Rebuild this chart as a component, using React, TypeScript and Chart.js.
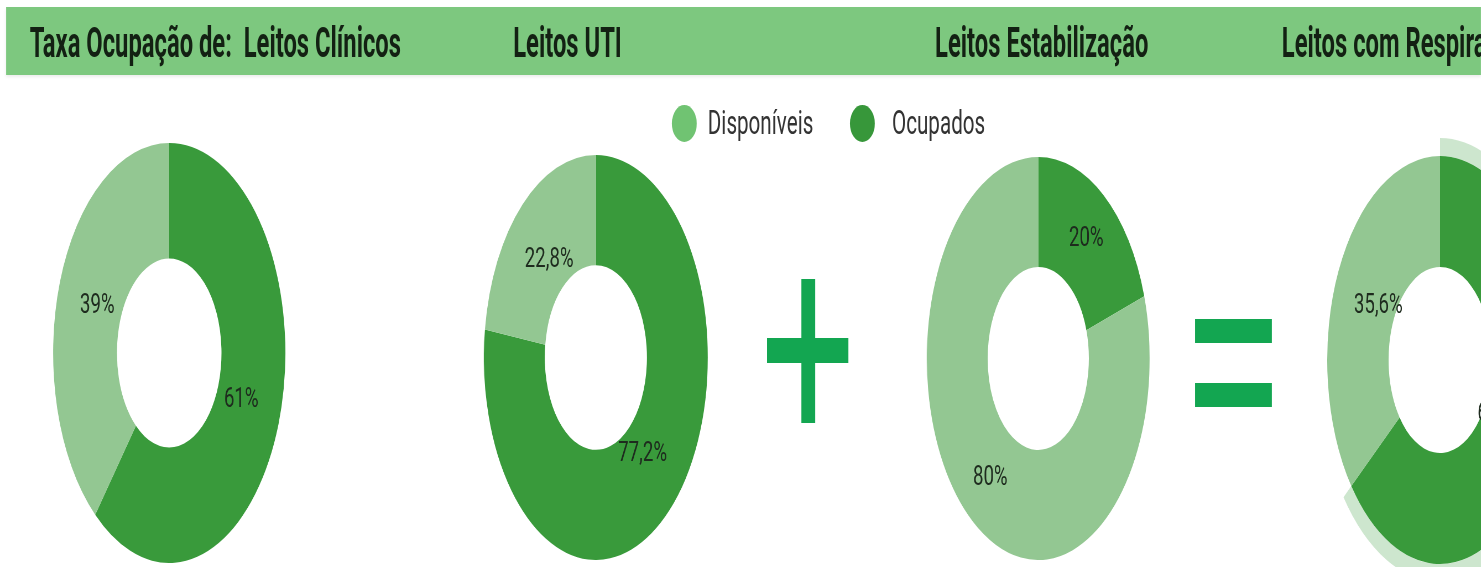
import React, { useEffect, useRef } from 'react';
import { Chart, registerables } from 'chart.js';

Chart.register(...registerables);

// ---------- data ----------
const headerTitles = [
  'Taxa Ocupação de:  Leitos Clínicos',
  'Leitos UTI',
  'Leitos Estabilização',
  'Leitos com Respiradores',
];
const sliceLabels = ['Ocupados', 'Disponíveis'];
const legendLabels = ['Disponíveis', 'Ocupados'];
const clinicosValues = [61, 39];
const utiValues = [77.2, 22.8];
const estabilizacaoValues = [20, 80];
const respiradoresValues = [64.4, 35.6];

// ---------- styles ----------
const SQUASH = 0.553;
const VIEW_W = 1481;
const VIEW_H = 567;
const VW = VIEW_W / SQUASH;

const COLOR_OCUPADOS = '#399a3b';
const COLOR_DISPONIVEIS = '#93c792';
const COLOR_HALO = 'rgba(57,154,59,0.25)';
const LEGEND_COLORS: Record<string, string> = {
  'Disponíveis': '#70c372',
  'Ocupados': '#37973a',
};
const SIGN_COLOR = '#13a651';
const HEADER_BG = '#7dc87f';
const HEADER_TEXT = '#132113';
const LABEL_TEXT = '#1e2b1e';

const headerLefts = [54, 928, 1691, 2318];

function formatPct(v: number): string {
  const r = Number(v.toFixed(1));
  return String(r).replace('.', ',') + '%';
}

const pctLabelPlugin = {
  id: 'pctLabels',
  afterDatasetsDraw(chart: any, _args: any, opts: any) {
    const ctx = chart.ctx;
    const dsIndex = opts.datasetIndex ?? 0;
    const meta = chart.getDatasetMeta(dsIndex);
    const data: number[] = chart.data.datasets[dsIndex].data;
    const total = data.reduce((a, b) => a + b, 0);
    ctx.save();
    ctx.font = `${opts.size}px Roboto`;
    ctx.fillStyle = opts.color;
    ctx.textAlign = 'center';
    ctx.textBaseline = 'middle';
    meta.data.forEach((arc: any, i: number) => {
      const p = arc.getProps(['x', 'y', 'startAngle', 'endAngle', 'innerRadius', 'outerRadius'], true);
      const mid = (p.startAngle + p.endAngle) / 2;
      const r = p.innerRadius + (p.outerRadius - p.innerRadius) * opts.radial;
      const x = p.x + Math.cos(mid) * r;
      const y = p.y + Math.sin(mid) * r;
      ctx.save();
      ctx.translate(x, y);
      ctx.scale(opts.stretch, 1);
      ctx.fillText(formatPct((data[i] / total) * 100), 0, 0);
      ctx.restore();
    });
    ctx.restore();
  },
};

type DonutProps = {
  values: number[];
  left: number;
  top: number;
  size: number;
  cutout: string;
  radial: number;
  halo?: number[]; // [haloWeight, mainWeight]
};

function Donut({ values, left, top, size, cutout, radial, halo }: DonutProps) {
  const ref = useRef<HTMLCanvasElement | null>(null);
  useEffect(() => {
    if (!ref.current) return;
    const main = {
      data: values,
      backgroundColor: [COLOR_OCUPADOS, COLOR_DISPONIVEIS],
      borderWidth: 0,
      weight: halo ? halo[1] : 1,
    };
    const datasets: any[] = halo
      ? [
          {
            data: values,
            backgroundColor: [COLOR_HALO, 'rgba(0,0,0,0)'],
            borderWidth: 0,
            weight: halo[0],
          },
          main,
        ]
      : [main];
    const chart = new Chart(ref.current, {
      type: 'doughnut',
      data: { labels: sliceLabels, datasets },
      options: {
        responsive: false,
        animation: false,
        cutout,
        layout: { padding: 0 },
        plugins: {
          legend: { display: false },
          tooltip: { enabled: false },
          pctLabels: {
            datasetIndex: halo ? 1 : 0,
            size: 27,
            stretch: 1.25,
            color: LABEL_TEXT,
            radial,
          },
        } as any,
      },
      plugins: [pctLabelPlugin as any],
    });
    return () => chart.destroy();
  }, []);
  return (
    <div style={{ position: 'absolute', left, top, width: size, height: size }}>
      <canvas ref={ref} width={size} height={size} style={{ display: 'block' }} />
    </div>
  );
}

const legendLayout = [
  { circleLeft: 1215, textLeft: 1280 },
  { circleLeft: 1537, textLeft: 1613 },
];

export default function App() {
  return (
    <div
      style={{
        position: 'fixed',
        left: 0,
        top: 0,
        width: VIEW_W,
        height: VIEW_H,
        overflow: 'hidden',
        background: '#ffffff',
      }}
    >
      <div
        style={{
          position: 'absolute',
          left: 0,
          top: 0,
          width: VW,
          height: VIEW_H,
          transform: `scaleX(${SQUASH})`,
          transformOrigin: '0 0',
          fontFamily: 'Roboto, sans-serif',
        }}
      >
        {/* header bar */}
        <div
          style={{
            position: 'absolute',
            left: 11,
            top: 7,
            width: VW - 11,
            height: 68,
            background: HEADER_BG,
            boxShadow: '0 2px 4px rgba(0,0,0,0.08)',
          }}
        />
        {headerTitles.map((t, i) => (
          <div
            key={t}
            style={{
              position: 'absolute',
              left: headerLefts[i],
              top: 21,
              fontSize: 43,
              lineHeight: '43px',
              fontWeight: 700,
              color: HEADER_TEXT,
              whiteSpace: 'pre',
            }}
          >
            {t}
          </div>
        ))}

        {/* legend */}
        {legendLabels.map((l, i) => (
          <React.Fragment key={l}>
            <div
              style={{
                position: 'absolute',
                left: legendLayout[i].circleLeft,
                top: 105,
                width: 45,
                height: 37,
                borderRadius: '50%',
                background: LEGEND_COLORS[l],
              }}
            />
            <div
              style={{
                position: 'absolute',
                left: legendLayout[i].textLeft,
                top: 106,
                fontSize: 33,
                lineHeight: '33px',
                color: '#333333',
                whiteSpace: 'pre',
                transform: 'scaleX(1.13)',
                transformOrigin: '0 0',
              }}
            >
              {l}
            </div>
          </React.Fragment>
        ))}

        {/* donuts */}
        <Donut values={clinicosValues} left={95.6} top={142.5} size={420} cutout="45%" radial={0.38} />
        <Donut values={utiValues} left={875.3} top={155} size={405} cutout="45.6%" radial={0.33} />
        <Donut values={estabilizacaoValues} left={1676.4} top={157} size={403} cutout="45.4%" radial={0.51} />
        <Donut
          values={respiradoresValues}
          left={2382}
          top={138}
          size={444}
          cutout="41.9%"
          radial={0.28}
          halo={[18, 111]}
        />

        {/* plus sign */}
        <div style={{ position: 'absolute', left: 1448.5, top: 279, width: 25.3, height: 144, background: SIGN_COLOR }} />
        <div style={{ position: 'absolute', left: 1387, top: 338, width: 146.5, height: 25, background: SIGN_COLOR }} />
        {/* equals sign */}
        <div style={{ position: 'absolute', left: 2161, top: 319, width: 139, height: 24, background: SIGN_COLOR }} />
        <div style={{ position: 'absolute', left: 2161, top: 383, width: 139, height: 24, background: SIGN_COLOR }} />
      </div>
    </div>
  );
}
